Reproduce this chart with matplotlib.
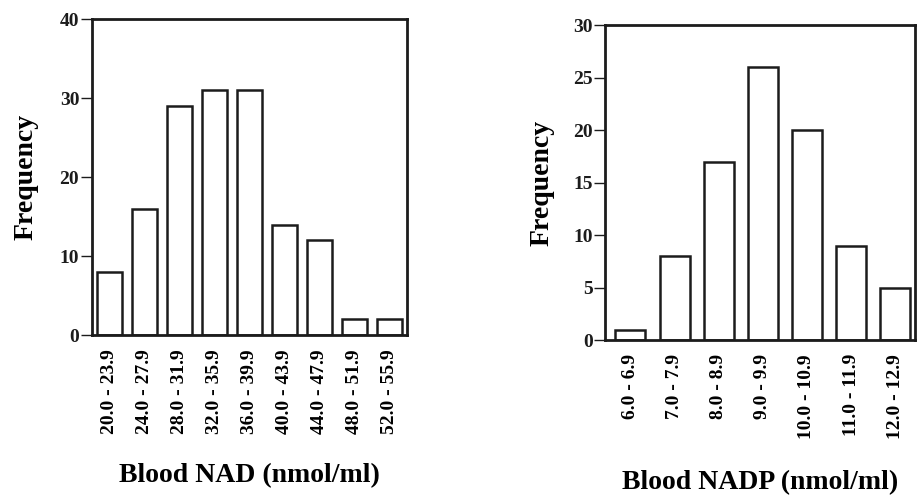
import matplotlib.pyplot as plt
import numpy as np

plt.rcParams['font.family'] = ['Liberation Serif', 'DejaVu Serif']
plt.rcParams['font.weight'] = 'bold'

nad_bins = ['20.0 - 23.9', '24.0 - 27.9', '28.0 - 31.9', '32.0 - 35.9', '36.0 - 39.9',
            '40.0 - 43.9', '44.0 - 47.9', '48.0 - 51.9', '52.0 - 55.9']
nad_freq = [8, 16, 29, 31, 31, 14, 12, 2, 2]

nadp_bins = ['6.0 - 6.9', '7.0 - 7.9', '8.0 - 8.9', '9.0 - 9.9',
             '10.0 - 10.9', '11.0 - 11.9', '12.0 - 12.9']
nadp_freq = [1, 8, 17, 26, 20, 9, 5]

ink = '#1c1c1c'


def hist_bar(ax, labels, freq, width, xlim, ymax, ystep, xlabel, ylab_x, xlab_y):
    x = np.arange(len(labels))
    ax.bar(x, freq, width=width, color='white', edgecolor=ink, linewidth=1.8)
    ax.set_xlim(*xlim)
    ax.set_ylim(0, ymax)
    ax.set_yticks(np.arange(0, ymax + 1, ystep))
    ax.set_xticks(x)
    ax.set_xticklabels(labels, rotation=90, fontsize=14, fontweight='bold')
    ax.tick_params(axis='x', length=0, pad=10)
    ax.tick_params(axis='y', length=8, width=1, colors=ink, labelsize=14, pad=1)
    for sp in ax.spines.values():
        sp.set_linewidth(2)
        sp.set_color(ink)
    ax.set_ylabel('Frequency', fontsize=20, fontweight='bold')
    ax.yaxis.set_label_coords(ylab_x, 0.5)
    ax.set_xlabel(xlabel, fontsize=20, fontweight='bold')
    ax.xaxis.set_label_coords(0.5, xlab_y)


fig = plt.figure(figsize=(9.17, 4.95), dpi=100)
ax1 = fig.add_axes([0.100, 0.323, 0.3435, 0.638])
ax2 = fig.add_axes([0.660, 0.313, 0.338, 0.636])

hist_bar(ax1, nad_bins, nad_freq, 0.72, (-0.51, 8.49), 40, 10,
         'Blood NAD (nmol/ml)', -0.17, -0.405)
hist_bar(ax2, nadp_bins, nadp_freq, 0.68, (-0.57, 6.45), 30, 5,
         'Blood NADP (nmol/ml)', -0.165, -0.413)

fig.savefig('out.png', dpi=100)
